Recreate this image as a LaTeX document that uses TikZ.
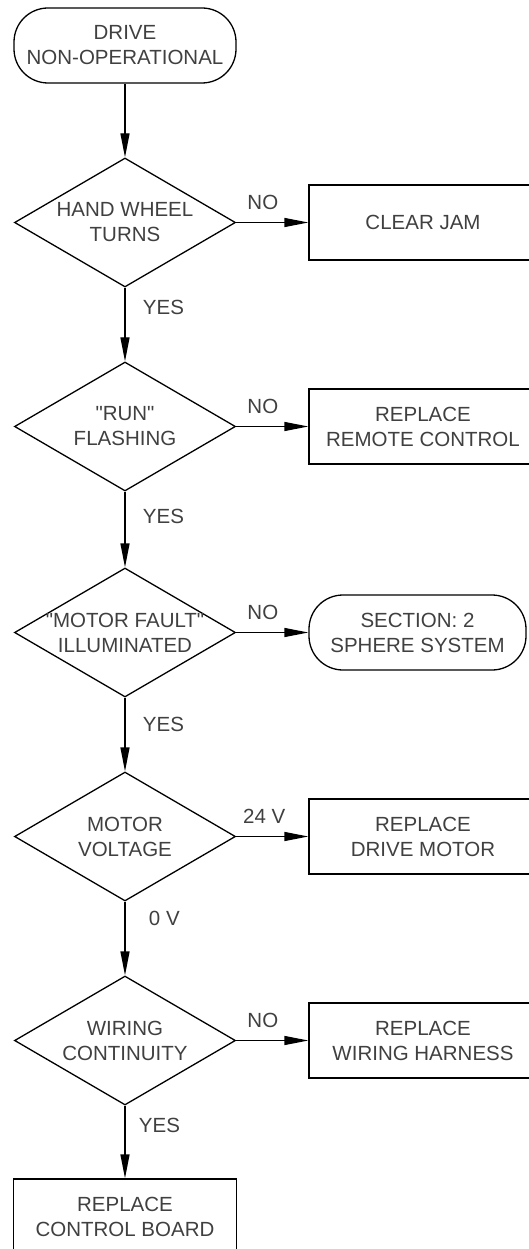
\documentclass[tikz,border=0pt]{standalone}
\usepackage{fontspec}
\setmainfont{Liberation Sans}
\usepackage{tikz}
\usetikzlibrary{shapes.geometric, arrows.meta, positioning, calc}

\begin{document}
\begin{tikzpicture}[
    x=1pt, y=1pt,
    node distance=204pt,
    every node/.style={font=\fontsize{20.5pt}{25pt}\selectfont, text=black!75},
    startstop/.style={rectangle, rounded corners=34pt, minimum width=222pt, minimum height=75pt, align=center, draw=black, line width=1.3pt},
    process/.style={rectangle, minimum width=228pt, minimum height=75pt, align=center, draw=black, line width=1.3pt},
    decision/.style={diamond, aspect=1.71, minimum width=221pt, minimum height=129pt, inner xsep=-12pt, inner ysep=0pt, align=center, draw=black, line width=1.3pt},
    lbl/.style={font=\fontsize{20.5pt}{25pt}\selectfont},
    arrow/.style={line width=1.3pt, ->, >={Triangle[length=24pt, width=9pt]}}
]
\useasboundingbox (0,0) rectangle (528,-1249);

\node (start) [startstop] at (125,-45.5) {DRIVE\\NON-OPERATIONAL};
\node (hand) [decision, below of=start, yshift=27pt] {HAND WHEEL\\TURNS};
\node (run) [decision, below of=hand] {\textquotedbl RUN\textquotedbl\\FLASHING};
\node (fault) [decision, below of=run, yshift=-2pt] {\textquotedbl MOTOR FAULT\textquotedbl\\ILLUMINATED};
\node (volt) [decision, below of=fault] {MOTOR\\VOLTAGE};
\node (wiring) [decision, below of=volt] {WIRING\\CONTINUITY};
\node (board) [process, minimum width=223pt, below of=wiring, yshift=28pt] {REPLACE\\CONTROL BOARD};

\node (jam) [process, node distance=298pt, right of=hand] {CLEAR JAM};
\node (remote) [process, node distance=298pt, right of=run] {REPLACE\\REMOTE CONTROL};
\node (section) [startstop, minimum width=217pt, node distance=292.5pt, right of=fault] {SECTION: 2\\SPHERE SYSTEM};
\node (drive) [process, node distance=298pt, right of=volt] {REPLACE\\DRIVE MOTOR};
\node (harness) [process, node distance=298pt, right of=wiring] {REPLACE\\WIRING HARNESS};

\draw [arrow] (start) -- (hand);
\draw [arrow] (hand) -- node[lbl, above=9pt, pos=0.37] {NO} (jam);
\draw [arrow] (hand) -- node[lbl, right=14pt, pos=0.27] {YES} (run);
\draw [arrow] (run) -- node[lbl, above=9pt, pos=0.37] {NO} (remote);
\draw [arrow] (run) -- node[lbl, right=14pt, pos=0.33] {YES} (fault);
\draw [arrow] (fault) -- node[lbl, above=9pt, pos=0.37] {NO} (section);
\draw [arrow] (fault) -- node[lbl, right=14pt, pos=0.36] {YES} (volt);
\draw [arrow] (volt) -- node[lbl, above=9pt, pos=0.39] {24 V} (drive);
\draw [arrow] (volt) -- node[lbl, right=20pt, pos=0.23] {0 V} (wiring);
\draw [arrow] (wiring) -- node[lbl, above=9pt, pos=0.37] {NO} (harness);
\draw [arrow] (wiring) -- node[lbl, right=10pt, pos=0.27] {YES} (board);

\end{tikzpicture}
\end{document}
